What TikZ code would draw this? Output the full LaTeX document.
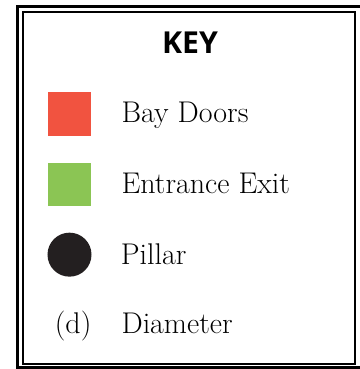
\documentclass[tikz,border=0pt]{standalone}
\usepackage{fontspec}
\newfontfamily\keyfont{Open Sans}
\usetikzlibrary{positioning}

\definecolor{baydoor}{RGB}{241,83,64}
\definecolor{exitgreen}{RGB}{139,197,84}
\definecolor{pillarblack}{RGB}{35,31,32}

\begin{document}
\begin{tikzpicture}
   [
      x=0.025cm, y=-0.025cm,
      swatch/.style={rectangle, inner sep=0pt, minimum size=1.075cm},
      pillar dot/.style={circle, inner sep=0pt, minimum size=1.1cm, fill=pillarblack},
      entry/.style={inner sep=0pt, text height=14.5pt, text depth=0pt,
                    font=\fontsize{21.3}{24}\selectfont},
      title node/.style={inner sep=0pt, text height=15.4pt, text depth=0pt,
                         font=\keyfont\bfseries\fontsize{21.5}{24}\selectfont},
      outer frame/.style={line width=2.2pt},
      inner frame/.style={line width=0.8pt}
   ]

   \useasboundingbox (0,0) rectangle (360,369);

   % =======================================================
   % Frame (double border)
   % =======================================================

   \draw[outer frame] (17.5,6.5) rectangle (361.5,367.8);
   \draw[inner frame] (23,12) rectangle (355,364);

   % Title
   \node[title node] (key) at (190,42.5) {KEY};

   % =======================================================
   % Symbols
   % =======================================================

   \node[swatch, fill=baydoor] (bay) at (69.5,114) {};
   \node[swatch, fill=exitgreen, below=0.675cm of bay] (exit) {};
   \node[pillar dot, below=0.65cm of exit] (pillar) {};
   \node[entry, below=0.9cm of pillar, xshift=0.09cm] (diam) {(d)};

   % =======================================================
   % Labels
   % =======================================================

   \node[entry, right=0.75cm of bay, yshift=0.03cm] (bay label) {Bay Doors};
   \node[entry, right=0.75cm of exit, yshift=0.02cm] (exit label) {Entrance Exit};
   \node[entry, right=0.72cm of pillar] (pillar label) {Pillar};
   \node[entry, anchor=west, xshift=0.75cm] (diam label)
      at (bay.east |- diam) {Diameter};

\end{tikzpicture}
\end{document}
